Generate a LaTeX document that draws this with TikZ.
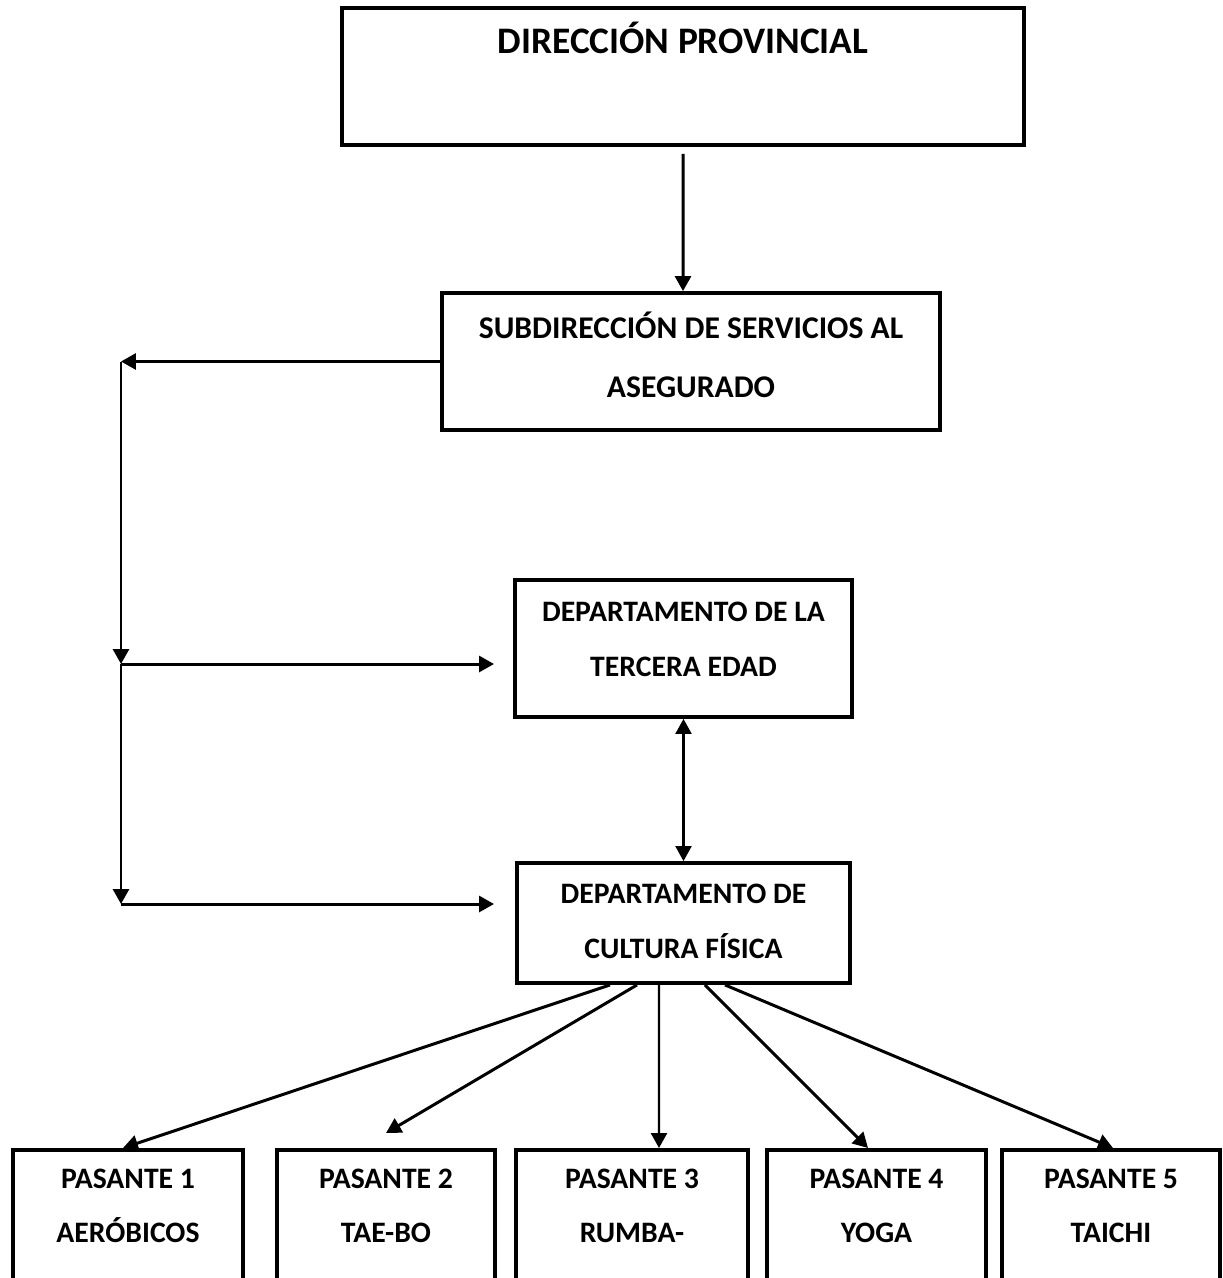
\documentclass[tikz,border=0pt]{standalone}
\usepackage{fontspec}
\setmainfont{Carlito}
\usetikzlibrary{arrows.meta}

\begin{document}
\begin{tikzpicture}[x=0.02cm, y=-0.02cm, >={Triangle[length=0.3cm, width=0.32cm]}]
    \tikzset{box/.style = {shape=rectangle, draw, line width=2.2pt, inner sep=0pt}}
    \tikzset{lbl/.style = {align=center, inner sep=0pt, font=\bfseries\fontsize{16.9}{31.3}\selectfont}}
    \tikzset{link/.style = {draw, line width=1.7pt, ->}}

    \useasboundingbox (0,0) rectangle (1223,1278);
    \clip (0,0) rectangle (1223,1278);

    % boxes
    \node[box, minimum width=13.64cm, minimum height=2.74cm] (dp) at (683,76.5) {};
    \node[box, minimum width=9.96cm, minimum height=2.74cm] (sub) at (691,361.5) {};
    \node[box, minimum width=6.74cm, minimum height=2.74cm] (ter) at (683.5,648.5) {};
    \node[box, minimum width=6.66cm, minimum height=2.4cm] (cf) at (683.5,923) {};
    \node[lbl, anchor=base, font=\bfseries\fontsize{21.3}{26}\selectfont] (dpt) at (683,53.5) {DIRECCIÓN PROVINCIAL};
    \node[lbl, font=\bfseries\fontsize{18}{33.6}\selectfont] (subt) at (691,354.5) {SUBDIRECCIÓN DE SERVICIOS AL\\ASEGURADO};
    \node[lbl] (tert) at (683.5,639) {DEPARTAMENTO DE LA\\TERCERA EDAD};
    \node[lbl] (cft) at (683.5,921) {DEPARTAMENTO DE\\CULTURA FÍSICA};

    % pasantes
    \node[box, minimum width=4.6cm, minimum height=3cm, anchor=north] (p1) at (128,1148) {};
    \node[box, minimum width=4.36cm, minimum height=3cm, anchor=north] (p2) at (386,1148) {};
    \node[box, minimum width=4.64cm, minimum height=3cm, anchor=north] (p3) at (632,1148) {};
    \node[box, minimum width=4.38cm, minimum height=3cm, anchor=north] (p4) at (876.5,1148) {};
    \node[box, minimum width=4.36cm, minimum height=3cm, anchor=north] (p5) at (1111,1148) {};
    \node[lbl, font=\bfseries\fontsize{16.9}{30.4}\selectfont] (p1t) at (128,1206) {PASANTE 1\\AERÓBICOS};
    \node[lbl, font=\bfseries\fontsize{16.9}{30.4}\selectfont] (p2t) at (386,1206) {PASANTE 2\\TAE-BO};
    \node[lbl, font=\bfseries\fontsize{16.9}{30.4}\selectfont] (p3t) at (632,1206) {PASANTE 3\\RUMBA-};
    \node[lbl, font=\bfseries\fontsize{16.9}{30.4}\selectfont] (p4t) at (876.5,1206) {PASANTE 4\\YOGA};
    \node[lbl, font=\bfseries\fontsize{16.9}{30.4}\selectfont] (p5t) at (1111,1206) {PASANTE 5\\TAICHI};

    % corners of the left line
    \coordinate (c1) at (121,361.5);
    \coordinate (c2) at (121,664);
    \coordinate (c3) at (121,904);
    \coordinate (c4) at (494,664);
    \coordinate (c5) at (494,904);

    % edges
    \draw[link] ([yshift=-0.14cm]dp.south) -- ([xshift=-0.16cm]sub.north);
    \draw[link] (sub.west) -- (c1);
    \draw[link] (c1) -- (c2);
    \draw[link] (c2) -- (c4);
    \draw[link] (c2) -- (c3);
    \draw[link] (c3) -- (c5);
    \draw[link, line width=1.2pt, <->] (ter) -- (cf);
    \draw[link] ([xshift=-1.47cm]cf.south) -- ([xshift=-0.1cm]p1.north);
    \draw[link] ([xshift=-0.93cm]cf.south) -- ([yshift=0.3cm]p2.north);
    \draw[link, line width=1.4pt] ([xshift=-0.49cm]cf.south) -- ([xshift=0.54cm]p3.north);
    \draw[link] ([xshift=0.43cm]cf.south) -- ([xshift=-0.17cm]p4.north);
    \draw[link] ([xshift=0.83cm]cf.south) -- ([xshift=0.04cm]p5.north);
\end{tikzpicture}
\end{document}
